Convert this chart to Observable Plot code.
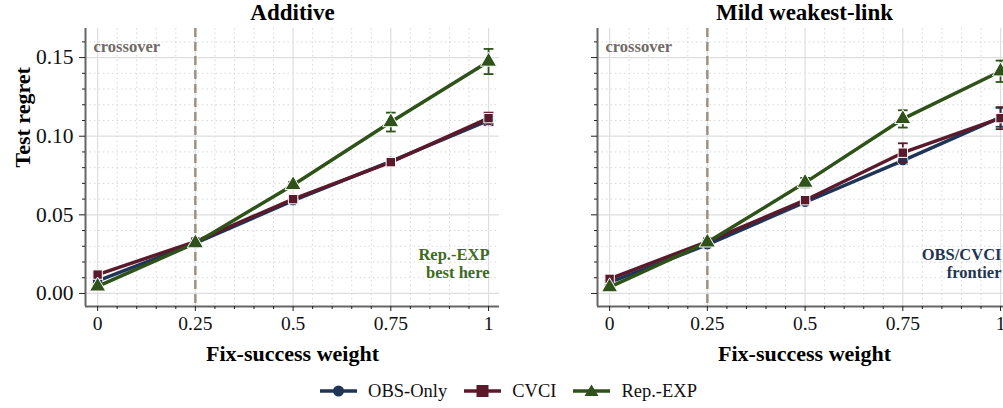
<!DOCTYPE html>
<html><head><meta charset="utf-8">
<script src="https://cdn.jsdelivr.net/npm/d3@7"></script>
<script src="https://cdn.jsdelivr.net/npm/@observablehq/plot@0.6"></script>
<style>
html,body{margin:0;padding:0;background:#fff;}
#wrap{position:relative;width:1003px;height:408px;overflow:hidden;font-family:"Liberation Serif","Times New Roman",serif;}
#wrap svg{max-width:none !important;}
#wrap svg text{font-family:"Liberation Serif","Times New Roman",serif !important;}
.panel{position:absolute;top:0;}
#legend{position:absolute;top:380px;left:7px;width:1003px;display:flex;justify-content:center;gap:17px;font-size:18.5px;line-height:22px;color:#111;}
#legend .it{display:flex;align-items:center;gap:11px;}
</style></head>
<body><div id="wrap"><div id="p1" class="panel" style="left:0"></div><div id="p2" class="panel" style="left:500px"></div><div id="legend"></div></div>
<script>
const weights = [0, 0.25, 0.5, 0.75, 1];
const xTicks = [0, 0.25, 0.5, 0.75, 1];
const xTickLabels = ["0", "0.25", "0.5", "0.75", "1"];
const yTicks = [0, 0.05, 0.10, 0.15];
const methods = ["OBS-Only", "CVCI", "Rep.-EXP"];
const colors = ["#1f3557", "#5b1a2b", "#2e5219"];
const symbols = ["circle", "square", "triangle"];
const panelTitles = ["Additive", "Mild weakest-link"];
const notes = [["Rep.-EXP", "best here"], ["OBS/CVCI", "frontier"]];
const noteColors = ["#3d6b23", "#1f3557"];

// Additive
const addObs  = [0.008, 0.032, 0.059, 0.084, 0.110];
const addCvci = [0.012, 0.033, 0.060, 0.0835, 0.1115];
const addRep  = [0.0045, 0.032, 0.069, 0.109, 0.1475];
const addObsErr  = [0.001, 0.001, 0.001, 0.002, 0.003];
const addCvciErr = [0.001, 0.001, 0.001, 0.002, 0.0035];
const addRepErr  = [0.001, 0.001, 0.002, 0.006, 0.008];
// Mild weakest-link
const mwlObs  = [0.007, 0.031, 0.058, 0.0845, 0.112];
const mwlCvci = [0.0093, 0.033, 0.0593, 0.0895, 0.1115];
const mwlRep  = [0.004, 0.0325, 0.0705, 0.111, 0.1413];
const mwlObsErr  = [0.001, 0.001, 0.001, 0.002, 0.006];
const mwlCvciErr = [0.001, 0.001, 0.001, 0.006, 0.007];
const mwlRepErr  = [0.001, 0.001, 0.003, 0.0055, 0.0068];

const crossover = 0.25;
const xDomain = [-0.031, 1.028];
const yDomain = [-0.0083, 0.1685];

const panels = [
  {means: [addObs, addCvci, addRep], errs: [addObsErr, addCvciErr, addRepErr]},
  {means: [mwlObs, mwlCvci, mwlRep], errs: [mwlObsErr, mwlCvciErr, mwlRepErr]}
];

const minorX = d3.range(0, 21).map(i => i * 0.05).filter(v => !xTicks.some(t => Math.abs(t - v) < 1e-9));
const minorY = d3.range(0, 17).map(i => i * 0.01).filter(v => !yTicks.some(t => Math.abs(t - v) < 1e-9));
const capSymbol = {draw(ctx, size) { const w = Math.sqrt(size) / 2; ctx.moveTo(-w, 0); ctx.lineTo(w, 0); }};

function makePanel(pi, showYLabels) {
  const P = panels[pi];
  const rows = [];
  methods.forEach((m, mi) => weights.forEach((w, wi) => rows.push({
    method: m, mi, x: w, y: P.means[mi][wi], lo: P.means[mi][wi] - P.errs[mi][wi], hi: P.means[mi][wi] + P.errs[mi][wi]
  })));
  const marks = [
    Plot.gridX(minorX, {stroke: "#d8d8d8", strokeOpacity: 1, strokeDasharray: "1.5,3"}),
    Plot.gridY(minorY, {stroke: "#d8d8d8", strokeOpacity: 1, strokeDasharray: "1.5,3"}),
    Plot.gridX(xTicks, {stroke: "#dedede", strokeOpacity: 1, strokeWidth: 1.2}),
    Plot.gridY(yTicks, {stroke: "#dedede", strokeOpacity: 1, strokeWidth: 1.2}),
    Plot.ruleX([crossover], {stroke: "#a09080", strokeWidth: 2.5, strokeDasharray: "9,5"}),
    Plot.text(["crossover"], {frameAnchor: "top-left", dx: 8, dy: 12, fontWeight: "bold", fontSize: 16.5, fill: "#6f6a66", textAnchor: "start"}),
    Plot.text([notes[pi].join("\n")], {frameAnchor: "bottom-right", dx: -10, dy: -29, fontWeight: "bold", fontSize: 16.5, fill: noteColors[pi], textAnchor: "end", lineHeight: 1.05}),
    Plot.text([panelTitles[pi]], {frameAnchor: "top", dy: -16, fontWeight: "bold", fontSize: 23, fill: "#000", lineAnchor: "middle"}),
    Plot.text(["Fix-success weight"], {frameAnchor: "bottom", dy: 47, fontWeight: "bold", fontSize: 22, fill: "#000", lineAnchor: "middle"}),
  ];
  methods.forEach((m, mi) => {
    const d = rows.filter(r => r.mi === mi);
    marks.push(
      Plot.ruleX(d, {x: "x", y1: "lo", y2: "hi", stroke: colors[mi], strokeWidth: 1.8}),
      Plot.dot(d, {x: "x", y: "lo", symbol: capSymbol, r: 5.5, stroke: colors[mi], strokeWidth: 1.8, fill: "none"}),
      Plot.dot(d, {x: "x", y: "hi", symbol: capSymbol, r: 5.5, stroke: colors[mi], strokeWidth: 1.8, fill: "none"}),
      Plot.line(d, {x: "x", y: "y", stroke: colors[mi], strokeWidth: 3.5}),
      Plot.dot(d, {x: "x", y: "y", symbol: symbols[mi], r: mi === 2 ? 6 : 5.3, fill: colors[mi], stroke: "#fff", strokeWidth: 1})
    );
  });
  marks.push(
    Plot.ruleX([xDomain[0]], {stroke: "#666", strokeWidth: 2}),
    Plot.ruleY([yDomain[0]], {stroke: "#666", strokeWidth: 2}),
    Plot.axisX({ticks: minorX, tickSize: 3, tickFormat: () => "", stroke: "#222", label: null}),
    Plot.axisX({ticks: xTicks, tickSize: 5, tickPadding: 5, tickFormat: (d, i) => xTickLabels[i], fontSize: 19.5, stroke: "#222", fill: "#111", label: null}),
    Plot.axisY({ticks: minorY, tickSize: 3, tickFormat: () => "", stroke: "#222", label: null}),
    Plot.axisY({ticks: yTicks, tickSize: 6, tickPadding: 6, tickFormat: showYLabels ? d3.format(".2f") : () => "", fontSize: 21.5, stroke: "#222", fill: "#111", label: null})
  );
  if (showYLabels) marks.push(Plot.text(["Test regret"], {frameAnchor: "left", dx: -63, rotate: -90, fontWeight: "bold", fontSize: 22, fill: "#000"}));
  return Plot.plot({
    width: showYLabels ? 500 : 512,
    height: 370,
    marginLeft: showYLabels ? 85 : 97,
    marginRight: 1,
    marginTop: 28,
    marginBottom: 64,
    x: {domain: xDomain},
    y: {domain: yDomain},
    style: "color: #111; background: transparent; overflow: visible; max-width: none;",
    marks
  });
}

document.getElementById("p1").appendChild(makePanel(0, true));
document.getElementById("p2").appendChild(makePanel(1, false));

const lg = document.getElementById("legend");
const shapes = [
  c => `<circle cx="18.5" cy="8" r="5.5" fill="${c}"/>`,
  c => `<rect x="12.5" y="2" width="12" height="12" fill="${c}"/>`,
  c => `<path d="M18.5,1.5 L25.5,13 L11.5,13 Z" fill="${c}"/>`
];
methods.forEach((m, i) => {
  const it = document.createElement("div");
  it.className = "it";
  it.innerHTML = `<svg width="37" height="16"><line x1="0" y1="8" x2="37" y2="8" stroke="${colors[i]}" stroke-width="3.5"/>${shapes[i](colors[i])}</svg><span>${m}</span>`;
  lg.appendChild(it);
});
</script></body></html>
